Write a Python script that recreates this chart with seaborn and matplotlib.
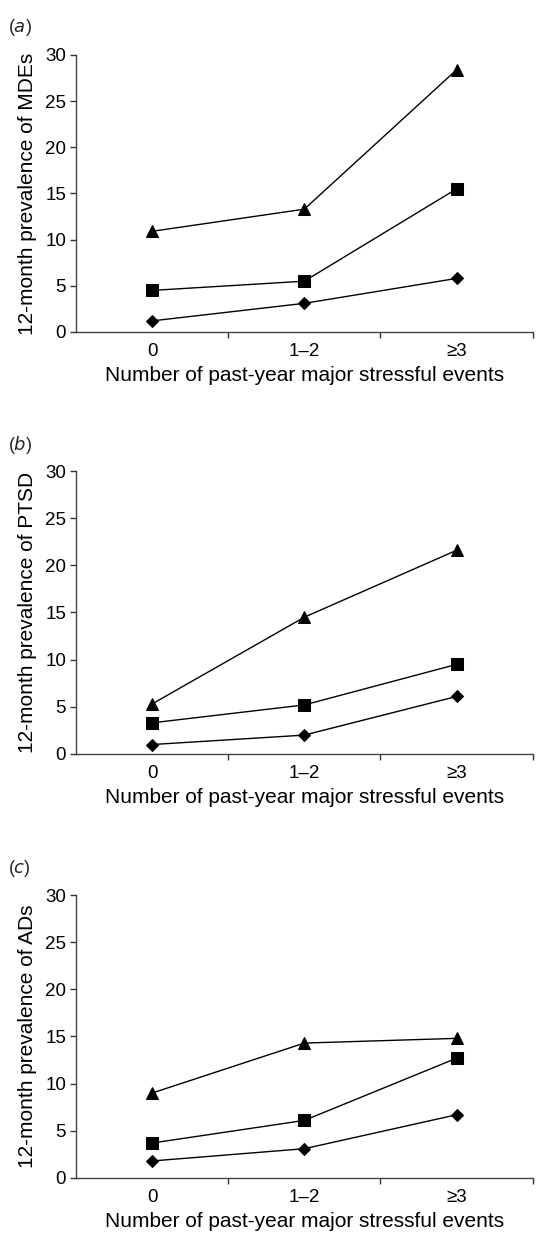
import matplotlib
matplotlib.use("Agg")
import matplotlib.pyplot as plt
import pandas as pd
import seaborn as sns
from matplotlib.ticker import FixedLocator

sns.set_style("ticks")
plt.rcParams['font.family'] = ['Liberation Sans Narrow', 'Liberation Sans', 'DejaVu Sans']
plt.rcParams['mathtext.fontset'] = 'custom'
plt.rcParams['mathtext.it'] = 'Liberation Sans Narrow:italic'
plt.rcParams['mathtext.rm'] = 'Liberation Sans Narrow'

# Data
events = ['0', '1\u20132', '\u22653']
panels = ['a', 'b', 'c']
ylabels = ['12-month prevalence of MDEs',
           '12-month prevalence of PTSD',
           '12-month prevalence of ADs']

# three groups per panel: diamond (low), square (mid), triangle (high)
mde_diamond = [1.2, 3.1, 5.8]
mde_square = [4.5, 5.5, 15.5]
mde_triangle = [10.9, 13.3, 28.4]

ptsd_diamond = [1.0, 2.0, 6.1]
ptsd_square = [3.3, 5.2, 9.5]
ptsd_triangle = [5.3, 14.5, 21.6]

ad_diamond = [1.8, 3.1, 6.7]
ad_square = [3.7, 6.1, 12.7]
ad_triangle = [9.0, 14.3, 14.8]

series = [
    (mde_diamond, mde_square, mde_triangle),
    (ptsd_diamond, ptsd_square, ptsd_triangle),
    (ad_diamond, ad_square, ad_triangle),
]

fig = plt.figure(figsize=(5.42, 12.35), dpi=100)

# axes boxes in figure fraction (left, bottom, width, height)
boxes = [
    (0.140, 0.7312, 0.843, 0.2243),
    (0.140, 0.3895, 0.843, 0.2291),
    (0.140, 0.0462, 0.843, 0.2291),
]
label_y = [0.974, 0.636, 0.293]

for i in range(3):
    d, s, t = series[i]
    df = pd.DataFrame({
        'events': events * 3,
        'pos': [0, 1, 2] * 3,
        'value': d + s + t,
        'group': ['diamond'] * 3 + ['square'] * 3 + ['triangle'] * 3,
    })
    ax = fig.add_axes(boxes[i])
    sns.lineplot(data=df, x='pos', y='value', style='group',
                 markers={'diamond': 'D', 'square': 's', 'triangle': '^'},
                 dashes=False, color='black', linewidth=1, markersize=8,
                 markeredgecolor='black', legend=False, ax=ax)
    # diamonds look smaller than squares in the original
    for ln in ax.lines:
        if ln.get_marker() == 'D':
            ln.set_markersize(6.3)
    ax.set_xlim(-0.5, 2.5)
    ax.set_ylim(0, 30)
    ax.set_yticks([0, 5, 10, 15, 20, 25, 30])
    ax.set_xticks([0, 1, 2])
    ax.set_xticklabels(events)
    ax.xaxis.set_minor_locator(FixedLocator([0.5, 1.5, 2.5]))
    ax.tick_params(axis='x', which='major', length=0, labelsize=13.5, pad=8,
                   labelcolor='black')
    ax.tick_params(axis='x', which='minor', length=4, width=1, color='#333333')
    ax.tick_params(axis='y', length=4, width=1, labelsize=13.5, color='#333333',
                   pad=3, labelcolor='black')
    sns.despine(ax=ax)
    for sp in ['left', 'bottom']:
        ax.spines[sp].set_color('#444444')
        ax.spines[sp].set_linewidth(1)
    ax.set_xlabel('Number of past-year major stressful events', fontsize=15,
                  labelpad=4, color='black')
    ax.set_ylabel(ylabels[i], fontsize=15, labelpad=6, color='black')
    fig.text(0.015, label_y[i], '($\\mathit{%s}$)' % panels[i], fontsize=13)

fig.savefig('out.png', dpi=100)
